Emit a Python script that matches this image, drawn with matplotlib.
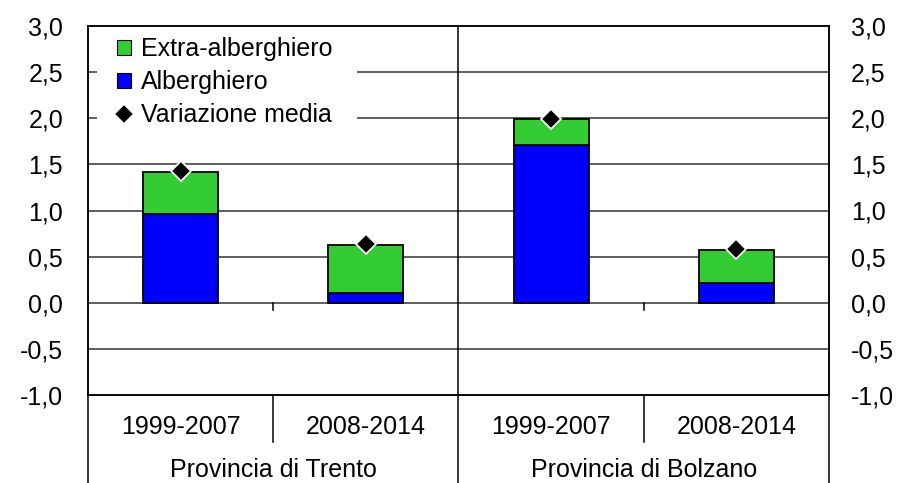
import numpy as np
import matplotlib
matplotlib.use('Agg')
import matplotlib.pyplot as plt
from matplotlib.ticker import FuncFormatter, MultipleLocator
from matplotlib.lines import Line2D
from matplotlib.patches import Rectangle

plt.rcParams['font.family'] = ['Liberation Sans', 'DejaVu Sans']

# data
periods = ['1999-2007', '2008-2014', '1999-2007', '2008-2014']
provinces = ['Provincia di Trento', 'Provincia di Bolzano']
alberghiero = [0.96, 0.11, 1.71, 0.21]
extra = [0.46, 0.52, 0.28, 0.36]
media = [1.43, 0.64, 1.99, 0.58]

green = '#33CC33'
blue = '#0000FF'
fs = 18

fig = plt.figure(figsize=(8.99, 4.83), dpi=100)
ax = fig.add_axes([88/899, 1 - 395/483, (829-88)/899, (395-26)/483])

x = np.arange(len(periods)) + 0.5
w = 0.405
ax.set_xlim(0, 4)
ax.set_ylim(-1.0, 3.0)

# grid lines
for yv in np.arange(-0.5, 3.0, 0.5):
    ax.axhline(yv, color='#333333', lw=1.1, zorder=1)

b1 = ax.bar(x, alberghiero, w, color=blue, edgecolor='black', lw=1.3, zorder=3, label='Alberghiero')
b2 = ax.bar(x, extra, w, bottom=alberghiero, color=green, edgecolor='black', lw=1.3, zorder=3,
            label='Extra-alberghiero')
m, = ax.plot(x, media, ls='none', marker='D', ms=10, mfc='black', mec='white', mew=1.3,
             zorder=5, label='Variazione media')

# white box behind the legend hides the grid lines
ax.add_patch(Rectangle((9/741, 1 - 114/369), 260/741, 114/369, transform=ax.transAxes,
                       facecolor='white', edgecolor='none', zorder=2))

leg = ax.legend([b2, b1, m], ['Extra-alberghiero', 'Alberghiero', 'Variazione media'],
                loc='upper left', bbox_to_anchor=(29/741, 1 - 11/369), frameon=False, fontsize=fs,
                handlelength=0.55, handleheight=0.55, handletextpad=0.4, labelspacing=0.36,
                borderpad=0, borderaxespad=0)
leg.set_zorder(4)
for h in leg.legend_handles[:2]:
    h.set_edgecolor('black')
    h.set_linewidth(0.8)

fmt = FuncFormatter(lambda v, p: ('%.1f' % v).replace('.', ','))
ax.yaxis.set_major_locator(MultipleLocator(0.5))
ax.yaxis.set_major_formatter(fmt)
ax.tick_params(axis='y', length=0, pad=18, labelsize=fs)
ax.set_xticks([])

ax2 = ax.twinx()
ax2.set_ylim(-1.0, 3.0)
ax2.yaxis.set_major_locator(MultipleLocator(0.5))
ax2.yaxis.set_major_formatter(fmt)
ax2.tick_params(axis='y', length=0, pad=16, labelsize=fs)

for a in (ax, ax2):
    for s in a.spines.values():
        s.set_linewidth(1.1)

# small ticks on the zero line between periods
for xv in (1, 3):
    ax.plot([xv, xv], [0, -0.08], color='black', lw=1.1, zorder=2, clip_on=False)

# divider between provinces
ax.plot([2, 2], [-1.0, 3.0], color='black', lw=1.1, zorder=2)

# category area below the plot
trans = ax.get_xaxis_transform()
fig_bottom = -(483 - 395) / 369
for xv in (0, 2, 4):
    ax.add_line(Line2D([xv, xv], [0, fig_bottom], transform=trans, color='black', lw=1.1, clip_on=False))
for xv in (1, 3):
    ax.add_line(Line2D([xv, xv], [0, -(442 - 395) / 369], transform=trans, color='black', lw=1.1,
                       clip_on=False))
for xi, lab in zip(x, periods):
    ax.text(xi, -(427 - 395) / 369, lab, transform=trans, ha='center', va='center', fontsize=fs)
for i, lab in enumerate(provinces):
    ax.text(1 + 2 * i, -(470 - 395) / 369, lab, transform=trans, ha='center', va='center', fontsize=fs)

fig.savefig('out.png', dpi=100)
